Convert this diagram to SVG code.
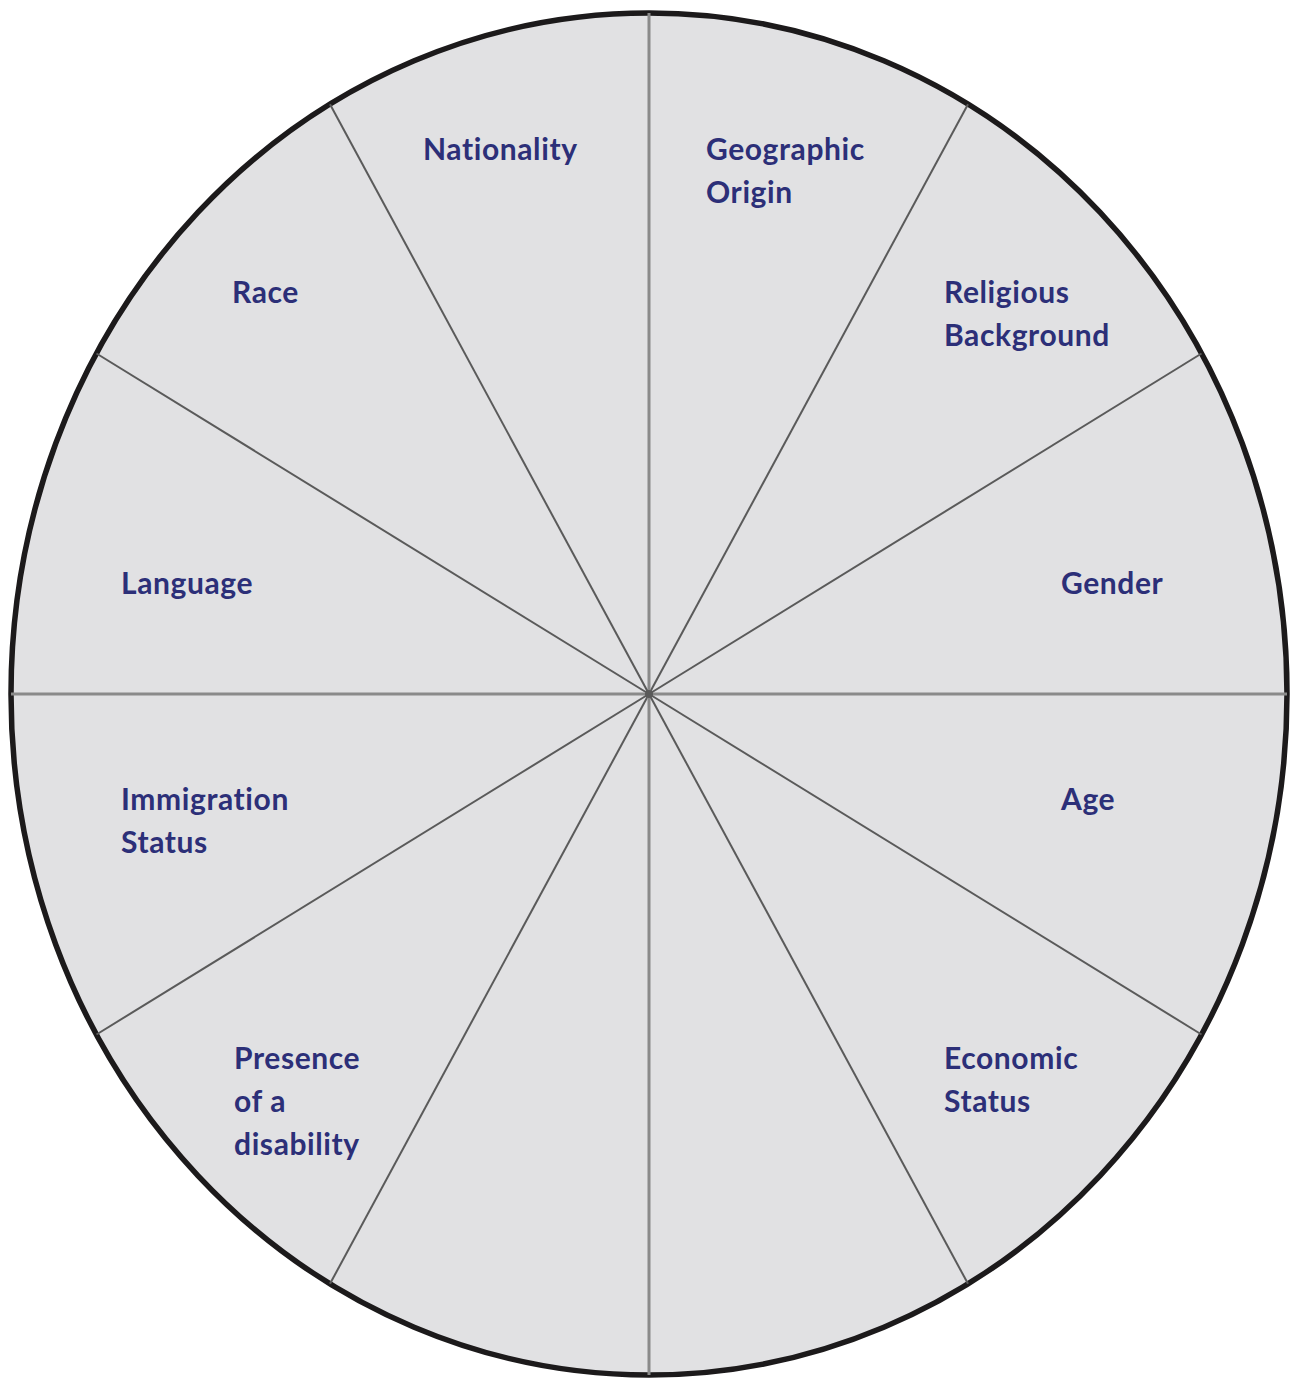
<svg xmlns="http://www.w3.org/2000/svg" width="1294" height="1378" viewBox="0 0 1294 1378">
<style>
.lbl{font-family:Lato,"Open Sans","Liberation Sans",sans-serif;font-weight:bold;font-size:30px;letter-spacing:0.6px;fill:#2c2f78}
.sp{stroke:#5a5a5a;stroke-width:2}
.ax{stroke:#8a8a8a;stroke-width:3}
</style>
<rect width="1294" height="1378" fill="#ffffff"/>
<ellipse cx="649" cy="694" rx="638" ry="681" fill="#e1e1e3" stroke="#1c1a1b" stroke-width="5.5"/>
<g id="connectors">
<line class="ax" x1="649" y1="694" x2="1287" y2="694"/>
<line class="sp" x1="649" y1="694" x2="1201.5" y2="353.5"/>
<line class="sp" x1="649" y1="694" x2="968" y2="104.2"/>
<line class="ax" x1="649" y1="694" x2="649" y2="13"/>
<line class="sp" x1="649" y1="694" x2="330" y2="104.2"/>
<line class="sp" x1="649" y1="694" x2="96.5" y2="353.5"/>
<line class="ax" x1="649" y1="694" x2="11" y2="694"/>
<line class="sp" x1="649" y1="694" x2="96.5" y2="1034.5"/>
<line class="sp" x1="649" y1="694" x2="330" y2="1283.8"/>
<line class="ax" x1="649" y1="694" x2="649" y2="1375"/>
<line class="sp" x1="649" y1="694" x2="968" y2="1283.8"/>
<line class="sp" x1="649" y1="694" x2="1201.5" y2="1034.5"/>
<circle cx="649" cy="694" r="4" fill="#5a5a5a"/>
</g>
<g id="nationality"><text class="lbl" x="423" y="160">Nationality</text></g>
<g id="geographic"><text class="lbl" x="706" y="160">Geographic</text><text class="lbl" x="706" y="203">Origin</text></g>
<g id="race"><text class="lbl" x="232" y="303">Race</text></g>
<g id="religious"><text class="lbl" x="944" y="303">Religious</text><text class="lbl" x="944" y="346">Background</text></g>
<g id="language"><text class="lbl" x="121" y="594">Language</text></g>
<g id="gender"><text class="lbl" x="1061" y="594">Gender</text></g>
<g id="immigration"><text class="lbl" x="121" y="810">Immigration</text><text class="lbl" x="121" y="853">Status</text></g>
<g id="age"><text class="lbl" x="1061" y="810">Age</text></g>
<g id="presence"><text class="lbl" x="234" y="1069">Presence</text><text class="lbl" x="234" y="1112">of a</text><text class="lbl" x="234" y="1155">disability</text></g>
<g id="economic"><text class="lbl" x="944" y="1069">Economic</text><text class="lbl" x="944" y="1112">Status</text></g>
</svg>
